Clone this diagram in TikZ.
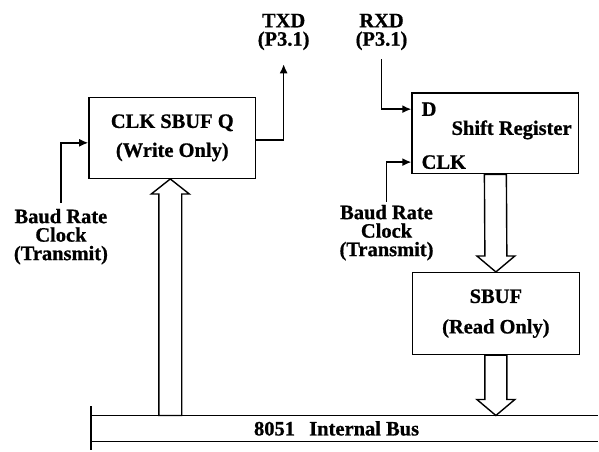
\documentclass[tikz,border=0pt]{standalone}
\usepackage{fontspec}
\setmainfont{Liberation Serif}[BoldFeatures={FakeBold=0.8}]
\usetikzlibrary{arrows.meta,positioning,calc}

\begin{document}
\begin{tikzpicture}[
	x=1pt, y=-1pt,
	every node/.style={font=\bfseries\fontsize{20.5}{18.5}\selectfont},
	reg/.style={draw, line width=1.4pt, minimum width=167pt, minimum height=81pt, align=center, inner sep=0pt},
	lbl/.style={align=center, inner sep=1pt},
	pin/.style={anchor=base west, inner sep=0pt},
	wire/.style={line width=1.4pt},
	arrow/.style={wire, -{Latex[length=9pt,width=8pt]}},
	fat/.style={draw, line width=1.4pt, fill=white, line join=miter},
	bus/.style={line width=1.5pt}
]
\path[fill=white] (0,0) rectangle (599,451);

% registers
\node[reg] (wbuf) at (172.5,138) {CLK SBUF Q\\[10.5pt](Write Only)};
\node[reg] (shreg) at (496,133.5) {};
\node[pin] (din) at (422,116) {D};
\node[pin] (regname) at (452,135) {Shift Register};
\node[pin] (clk) at (422,169) {CLK};
\node[reg, minimum height=82pt] (rbuf) at (496.5,314) {SBUF\\[12pt](Read Only)};

% pins and clocks
\node[lbl] (txd) at (284,32) {TXD\\(P3.1)};
\node[lbl] (rxd) at (382,32) {RXD\\(P3.1)};
\node[lbl, anchor=north] (lbaud) at (61,208) {Baud Rate\\Clock\\(Transmit)};
\node[lbl, anchor=north] (rbaud) at (387,204) {Baud Rate\\Clock\\(Transmit)};

% internal bus
\node (bus) at (337,429) {8051\hspace{0.7em}Internal Bus};
\coordinate (bustop) at (91,416);
\draw[bus] (91,407) -- (91,451);
\draw[bus] (bustop) -- (599,416);
\draw[bus] (91,442) -- (599,442);

\draw[arrow, shorten >=13pt] ([yshift=-2pt]wbuf.east) -| (txd.south);
\draw[arrow, shorten <=5pt] (lbaud.north) |- ([yshift=-5pt]wbuf.west);
\draw[arrow, shorten <=8pt] (rxd.south) |- (shreg.west |- din.west);
\draw[arrow, shorten <=2pt] (rbaud.north) |- (shreg.west |- clk.west);

% data paths
\coordinate (wtip) at ([xshift=-2pt]wbuf.south);
\coordinate (tin) at (wtip |- bustop);
\coordinate (tout) at (rbuf.south |- bustop);
\draw[fat] (wtip) -- ++(19,15) -- ++(-7.5,0) -- ([xshift=11.5pt]tin)
	-- ([xshift=-11.5pt]tin) -- ([xshift=-11.5pt,yshift=-15pt]wtip) -- ++(-7.5,0) -- cycle;
\draw[fat] (rbuf.north) -- ++(-19,-16) -- ++(8,0) -- ([xshift=-11pt]shreg.south)
	-- ([xshift=11pt]shreg.south) -- ([xshift=11pt,yshift=16pt]rbuf.north) -- ++(8,0) -- cycle;
\draw[fat] (tout) -- ++(-19,-16) -- ++(8,0) -- ([xshift=-11pt]rbuf.south)
	-- ([xshift=11pt]rbuf.south) -- ([xshift=11pt,yshift=16pt]tout) -- ++(8,0) -- cycle;
\end{tikzpicture}
\end{document}
